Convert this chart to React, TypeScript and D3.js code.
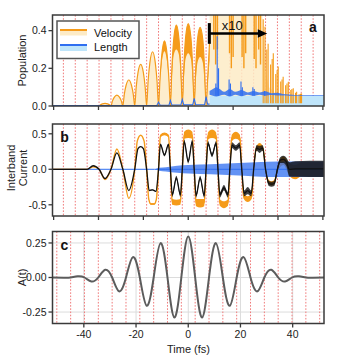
import React from "react";
import * as d3 from "d3";

// ---------- values ----------
const topTicks = [-60, -40, -20, 0, 20, 40, 60];
const timeTicks = [-40, -20, 0, 20, 40];
const popTicks = [0, 0.2, 0.4];
const curTicks = [-0.5, 0, 0.5];
const aTicks = [-0.25, 0, 0.25];

// red dotted guides (field maxima, half period 5.3 fs)
const redLines = [-55.65, -50.35, -45.05, -39.75, -34.45, -29.15, -23.85, -18.55, -13.25, -7.95, -2.65,
  2.65, 7.95, 13.25, 18.55, 23.85, 29.15, 34.45, 39.75, 45.05, 50.35, 55.65];

// panel a : velocity humps [t, upper, lower edge of dense band]
const velHumps = [
  [-60.5, 0, 0], [-39.75, 0, 0],
  [-39.1, 0.006, 0.006], [-38.3, 0.011, 0.011], [-37.1, 0.014, 0.014], [-35.9, 0.011, 0.011], [-35.1, 0.006, 0.006],
  [-34.45, 0, 0],
  [-33.8, 0.026, 0.026], [-33.0, 0.046, 0.046], [-31.8, 0.058, 0.058], [-30.6, 0.046, 0.046], [-29.8, 0.026, 0.026],
  [-29.15, 0, 0],
  [-28.5, 0.062, 0.062], [-27.7, 0.11, 0.11], [-26.5, 0.138, 0.138], [-25.3, 0.11, 0.11], [-24.5, 0.062, 0.062],
  [-23.85, 0, 0],
  [-23.2, 0.1, 0.1], [-22.4, 0.177, 0.177], [-21.2, 0.221, 0.221], [-20.0, 0.177, 0.177], [-19.2, 0.1, 0.1],
  [-18.55, 0, 0],
  [-17.9, 0.13, 0.13], [-17.1, 0.23, 0.23], [-15.9, 0.288, 0.288], [-14.7, 0.23, 0.23], [-13.9, 0.13, 0.13],
  [-13.25, 0, 0],
  [-12.6, 0.14, 0.13], [-11.8, 0.27, 0.23], [-10.6, 0.346, 0.29], [-9.4, 0.27, 0.23], [-8.6, 0.14, 0.13],
  [-7.95, 0, 0],
  [-7.3, 0.2, 0.14], [-6.5, 0.35, 0.27], [-5.3, 0.43, 0.3], [-4.1, 0.35, 0.27], [-3.3, 0.2, 0.14],
  [-2.65, 0, 0],
  [-2.0, 0.2, 0.13], [-1.2, 0.36, 0.25], [0, 0.437, 0.28], [1.2, 0.36, 0.25], [2.0, 0.2, 0.13],
  [2.65, 0, 0],
  [3.3, 0.19, 0.12], [4.1, 0.35, 0.23], [5.3, 0.417, 0.26], [6.5, 0.35, 0.23], [7.3, 0.19, 0.12],
  [7.95, 0, 0], [8.7, 0.16, 0.12], [9.5, 0.34, 0.24],
];
// x10 part: envelope of the light fill
const x10Env = [[9.5, 0.6], [32.8, 0.6], [33.4, 0.35], [34.5, 0.18], [36, 0.1], [40, 0.06], [45, 0.045], [52, 0.035], [60.5, 0.03]];
// orange dips coming down from above the frame
const dipT = [11.4, 12.2, 13.0, 18.4, 19.2, 20.0, 24.0, 24.8, 25.6, 29.4, 30.2, 31.4, 32.2];
const dipV = [0.3, 0.22, 0.3, 0.28, 0.2, 0.26, 0.26, 0.2, 0.28, 0.25, 0.2, 0.3, 0.22];
// decaying orange spikes after the pulse
const spikeT = [33.4, 34.2, 35.0, 35.6, 36.7, 37.4, 37.9, 39.0, 39.6, 40.1, 41.2, 41.8, 42.3, 43.4, 44.0, 44.6, 45.7, 46.2, 46.8, 47.8, 48.3, 49.4, 50.0, 50.5];
const spikeV = [0.46, 0.42, 0.3, 0.33, 0.22, 0.25, 0.28, 0.17, 0.19, 0.21, 0.13, 0.14, 0.155, 0.11, 0.12, 0.129, 0.085, 0.09, 0.094, 0.07, 0.076, 0.062, 0.065, 0.067];

// panel a : length population
const lenLow = [
  [-60.5, 0.003], [-14, 0.003], [-13.25, 0.02], [-12.5, 0.004], [-8.6, 0.004], [-7.95, 0.03], [-7.3, 0.005],
  [-3.3, 0.005], [-2.65, 0.035], [-2.0, 0.006], [2.0, 0.006], [2.65, 0.04], [3.3, 0.007], [7.3, 0.008],
  [7.95, 0.05], [8.6, 0.01], [9.5, 0.01],
];
// x10 part [t, lo, hi]
const lenHigh = [
  [9.5, 0.06, 0.08], [11, 0.055, 0.09], [12.5, 0.05, 0.1], [14, 0.055, 0.09], [16, 0.06, 0.075], [18.5, 0.05, 0.09],
  [21, 0.06, 0.075], [23.8, 0.052, 0.085], [26.5, 0.06, 0.072], [29.1, 0.054, 0.08], [31.8, 0.06, 0.072],
  [34.4, 0.055, 0.078], [37, 0.058, 0.068], [39.7, 0.056, 0.07], [42, 0.056, 0.064], [45, 0.055, 0.061],
  [50, 0.055, 0.058], [60.5, 0.055, 0.058],
];
const lenSpikeT = [12.3, 12.9, 13.5, 18.2, 18.8, 23.5, 24.1, 28.8, 29.4, 34.0];
const lenSpikeV = [0.12, 0.37, 0.2, 0.14, 0.12, 0.13, 0.1, 0.1, 0.09, 0.08];
const lenFill = [[9.5, 0.055], [60.5, 0.055]];

// panel b : interband current [t, value, ripple half width]
const curVel = [
  [-60.5, 0, 0], [-50, 0, 0], [-45.05, 0, 0], [-42.4, 0.035, 0], [-39.75, 0, 0], [-37.1, -0.145, 0],
  [-34.45, 0, 0], [-31.8, 0.285, 0], [-29.15, 0, 0], [-26.5, -0.41, 0], [-23.85, 0, 0],
  [-22.7, 0.4, 0], [-21.2, 0.48, 0], [-19.7, 0.4, 0], [-18.55, 0, 0],
  [-17.6, -0.42, 0.01], [-16.6, -0.49, 0.01], [-15.2, -0.49, 0.01], [-14.2, -0.42, 0.01], [-13.25, 0, 0.02],
  [-12.4, 0.47, 0.02], [-10.6, 0.5, 0.02], [-8.8, 0.47, 0.02], [-7.95, 0, 0.03],
  [-7.1, -0.46, 0.04], [-5.3, -0.47, 0.04], [-3.5, -0.46, 0.04], [-2.65, 0, 0.05],
  [-1.8, 0.48, 0.05], [0, 0.5, 0.06], [1.8, 0.48, 0.05], [2.65, 0, 0.05],
  [3.5, -0.47, 0.05], [5.3, -0.48, 0.06], [7.1, -0.47, 0.05], [7.95, 0, 0.05],
  [8.8, 0.47, 0.05], [10.6, 0.5, 0.06], [12.4, 0.47, 0.05], [13.25, 0, 0.045],
  [14.1, -0.47, 0.045], [15.9, -0.5, 0.05], [17.7, -0.47, 0.045], [18.55, 0, 0.045],
  [19.4, 0.44, 0.045], [21.2, 0.48, 0.05], [23.0, 0.44, 0.045], [23.85, 0, 0.035],
  [24.7, -0.38, 0.035], [26.5, -0.42, 0.04], [28.3, -0.38, 0.035], [29.15, 0, 0.03],
  [30.2, 0.28, 0.03], [31.8, 0.33, 0.04], [33.4, 0.28, 0.03], [34.45, 0, 0.03],
  [35.7, -0.17, 0.03], [37.1, -0.2, 0.03], [38.5, -0.17, 0.03], [39.75, 0, 0.04],
  [42.4, 0.12, 0.06], [45.05, 0, 0.09], [47.7, -0.04, 0.1], [50.35, 0, 0.1], [60.5, 0, 0.1],
];
const curTot = [
  [-60.5, 0, 0], [-48, 0, 0], [-45.05, 0, 0], [-42.4, 0.05, 0], [-39.75, 0, 0], [-37.1, -0.13, 0],
  [-34.45, 0, 0], [-31.8, 0.23, 0], [-29.15, 0, 0], [-26.5, -0.3, 0], [-23.85, 0, 0],
  [-22.4, 0.29, 0], [-21.2, 0.32, 0], [-20, 0.29, 0], [-18.55, 0, 0],
  [-17.4, -0.3, 0.005], [-15.9, -0.29, 0.005], [-14.4, -0.31, 0.005], [-13.25, 0, 0.015],
  [-12.4, 0.35, 0.015], [-10.6, 0.2, 0.02], [-8.8, 0.35, 0.015], [-7.95, 0, 0.03],
  [-7.1, -0.36, 0.03], [-5.3, -0.12, 0.03], [-3.5, -0.36, 0.03], [-2.65, 0, 0.03],
  [-1.8, 0.39, 0.03], [0, 0.11, 0.03], [1.8, 0.39, 0.03], [2.65, 0, 0.03],
  [3.5, -0.37, 0.03], [5.3, -0.12, 0.03], [7.1, -0.37, 0.03], [7.95, 0, 0.03],
  [8.8, 0.37, 0.03], [10.6, 0.2, 0.03], [12.4, 0.37, 0.03], [13.25, 0, 0.04],
  [14.1, -0.36, 0.04], [15.9, -0.26, 0.04], [17.7, -0.36, 0.04], [18.55, 0, 0.04],
  [19.5, 0.34, 0.04], [21.2, 0.3, 0.04], [22.9, 0.34, 0.04], [23.85, 0, 0.04],
  [24.9, -0.34, 0.04], [26.5, -0.3, 0.05], [28.1, -0.34, 0.04], [29.15, 0, 0.04],
  [30.4, 0.3, 0.04], [31.8, 0.28, 0.05], [33.2, 0.3, 0.04], [34.45, 0, 0.035],
  [35.9, -0.2, 0.035], [37.1, -0.21, 0.035], [38.3, -0.2, 0.035], [39.75, 0, 0.04],
  [41, 0.13, 0.04], [42.4, 0.14, 0.05], [43.8, 0.1, 0.06], [45.05, 0, 0.1],
  [47.7, 0.005, 0.11], [60.5, 0.005, 0.115],
];
const curLen = [
  [-60.5, 0, 0], [-15, 0, 0], [-13, 0, 0.02], [-10, 0, 0.03], [-5, 0, 0.05], [0, 0, 0.06],
  [10, 0, 0.07], [20, 0, 0.085], [30, 0, 0.1], [40, 0, 0.11], [60.5, 0, 0.11],
];

// panel c : vector potential extrema / zeros
const aT = [-52, -47.7, -45.05, -42.4, -39.75, -37.1, -34.45, -31.8, -29.15, -26.5, -23.85, -21.2, -18.55, -15.9,
  -13.25, -10.6, -7.95, -5.3, -2.65, 0, 2.65, 5.3, 7.95, 10.6, 13.25, 15.9, 18.55, 21.2, 23.85, 26.5, 29.15,
  31.8, 34.45, 37.1, 39.75, 42.4, 45.05, 47.7, 52];
const aV = [0, -0.002, 0, 0.009, 0, -0.029, 0, 0.056, 0, -0.1, 0, 0.148, 0, -0.205, 0, 0.249, 0, -0.29, 0,
  0.297, 0, -0.29, 0, 0.249, 0, -0.205, 0, 0.148, 0, -0.1, 0, 0.056, 0, -0.029, 0, 0.009, 0, -0.002, 0];

// ---------- styling ----------
const FONT = "'Liberation Sans', Arial, Helvetica, sans-serif";
const ORANGE = "#f59b1a";
const ORANGE_LT = "#fdebc6";
const BLUE = "#2f6ef0";
const BLUE_LT = "#bfe5fa";
const RED = "#f07a7a";
const FRAME = "#3a3a3a";
const L = 52.5, R = 324;

export default function App() {
  const xT = d3.scaleLinear().domain([-60.5, 60.5]).range([L, R]);
  const xB = d3.scaleLinear().domain([-52, 52]).range([L, R]);
  const yA = d3.scaleLinear().domain([0, 0.483]).range([106, 15]);
  const yB = d3.scaleLinear().domain([-0.658, 0.638]).range([216, 124]);
  const yC = d3.scaleLinear().domain([-0.333, 0.333]).range([323.5, 231.5]);

  const mono = d3.curveMonotoneX;

  // panel a generators
  const humpFill = d3.area<number[]>().x(d => xT(d[0])).y0(yA(0)).y1(d => yA(d[1])).curve(mono);
  const humpBand = d3.area<number[]>().x(d => xT(d[0])).y0(d => yA(d[2])).y1(d => yA(d[1])).curve(mono);
  const humpHi = d3.line<number[]>().x(d => xT(d[0])).y(d => yA(d[1])).curve(mono);
  const envFill = d3.area<number[]>().x(d => xT(d[0])).y0(yA(0)).y1(d => yA(d[1]));
  const lenLine = d3.line<number[]>().x(d => xT(d[0])).y(d => yA(d[1]));
  const lenBand = d3.area<number[]>().x(d => xT(d[0])).y0(d => yA(d[1])).y1(d => yA(d[2])).curve(mono);

  // panel b generators
  const bandB = d3.area<number[]>().x(d => xT(d[0])).y0(d => yB(d[1] - d[2])).y1(d => yB(d[1] + d[2])).curve(mono);
  const lineB = d3.line<number[]>().x(d => xT(d[0])).y(d => yB(d[1])).curve(mono);

  // panel c
  const aLine = d3.line<number>().x((_, i) => xB(aT[i])).y(d => yC(d)).curve(d3.curveNatural);

  const panels = [
    { id: "a", top: 15, bottom: 106 },
    { id: "b", top: 124, bottom: 216 },
    { id: "c", top: 231.5, bottom: 323.5 },
  ];

  const redGuides = (x: d3.ScaleLinear<number, number>, top: number, bottom: number) =>
    redLines.filter(t => t > x.domain()[0] && t < x.domain()[1]).map(t => (
      <line key={t} x1={x(t)} x2={x(t)} y1={top} y2={bottom} stroke={RED} strokeWidth={1} strokeDasharray="1.6,1.6" />
    ));

  const yAxis = (y: d3.ScaleLinear<number, number>, ticks: number[], digits: number) =>
    ticks.map(v => (
      <g key={v}>
        <line x1={L - 4} x2={L} y1={y(v)} y2={y(v)} stroke={FRAME} strokeWidth={1.3} />
        <text x={L - 6} y={y(v) + 3.8} textAnchor="end" fontSize={10.5} fill="#222">{v.toFixed(digits)}</text>
      </g>
    ));

  const xTickMarks = (x: d3.ScaleLinear<number, number>, ticks: number[], bottom: number) =>
    ticks.map(v => (
      <line key={v} x1={x(v)} x2={x(v)} y1={bottom} y2={bottom + 4} stroke={FRAME} strokeWidth={1.3} />
    ));

  return (
    <svg width={347} height={361} style={{ position: "absolute", left: 0, top: 0, background: "#fff" }} fontFamily={FONT}>
      <defs>
        {panels.map(p => (
          <clipPath key={p.id} id={"clip-" + p.id}>
            <rect x={L} y={p.top} width={R - L} height={p.bottom - p.top} />
          </clipPath>
        ))}
      </defs>

      {/* ---------------- panel a ---------------- */}
      <g clipPath="url(#clip-a)">
        {redGuides(xT, 15, 106)}
        <path d={humpFill(velHumps) || ""} fill={ORANGE_LT} opacity={0.9} />
        <path d={envFill(x10Env) || ""} fill={ORANGE_LT} opacity={0.85} />
        <path d={envFill(lenFill) || ""} fill={BLUE_LT} />
        <path d={humpBand(velHumps) || ""} fill={ORANGE} />
        <path d={humpHi(velHumps) || ""} fill="none" stroke={ORANGE} strokeWidth={1.2} />
        {dipT.map((t, i) => (
          <line key={"d" + t} x1={xT(t)} x2={xT(t)} y1={yA(0.5)} y2={yA(dipV[i])} stroke={ORANGE} strokeWidth={1.4} />
        ))}
        {spikeT.map((t, i) => (
          <line key={"s" + t} x1={xT(t)} x2={xT(t)} y1={yA(0.015)} y2={yA(spikeV[i])} stroke={ORANGE} strokeWidth={1.1} />
        ))}
        <path d={lenLine(lenLow) || ""} fill="none" stroke={BLUE} strokeWidth={1.1} />
        <path d={lenBand(lenHigh) || ""} fill={BLUE} opacity={0.85} />
        {lenSpikeT.map((t, i) => (
          <line key={"b" + t} x1={xT(t)} x2={xT(t)} y1={yA(0.055)} y2={yA(lenSpikeV[i])} stroke={BLUE} strokeWidth={1.1} />
        ))}
      </g>
      {/* x10 marker */}
      <line x1={xT(9.4)} x2={xT(9.4)} y1={yA(0.44)} y2={yA(0.33)} stroke="#000" strokeWidth={3} />
      <line x1={xT(9.4)} x2={xT(31.2)} y1={yA(0.385)} y2={yA(0.385)} stroke="#000" strokeWidth={2.6} />
      <path d={`M${xT(31)},${yA(0.385) - 4.3}L${xT(35.2)},${yA(0.385)}L${xT(31)},${yA(0.385) + 4.3}Z`} fill="#000" />
      <text x={xT(19.6)} y={yA(0.405)} textAnchor="middle" fontSize={13} fill="#111">x10</text>
      <text x={313} y={31.5} textAnchor="middle" fontSize={14} fontWeight="bold" fill="#111">a</text>
      {/* legend */}
      <rect x={57} y={21} width={82} height={37.5} fill="#fff" stroke="#555" strokeWidth={1.5} />
      <rect x={60} y={30} width={27} height={5.5} fill={ORANGE_LT} />
      <line x1={60} x2={87} y1={30} y2={30} stroke={ORANGE} strokeWidth={2} />
      <text x={94} y={36.5} fontSize={11} fill="#111">Velocity</text>
      <rect x={60} y={45} width={27} height={6} fill={BLUE_LT} />
      <line x1={60} x2={87} y1={45} y2={45} stroke={BLUE} strokeWidth={2} />
      <text x={94} y={50.5} fontSize={11} fill="#111">Length</text>
      <rect x={L} y={15} width={R - L} height={91} fill="none" stroke={FRAME} strokeWidth={1.5} />
      {yAxis(yA, popTicks, 1)}
      {xTickMarks(xT, topTicks, 106)}
      <text transform="translate(26,60.5) rotate(-90)" textAnchor="middle" fontSize={11} fill="#222">Population</text>

      {/* ---------------- panel b ---------------- */}
      <g clipPath="url(#clip-b)">
        {redGuides(xT, 124, 216)}
        <path d={bandB(curVel) || ""} fill={ORANGE} />
        <path d={lineB(curVel) || ""} fill="none" stroke={ORANGE} strokeWidth={1.4} />
        <path d={bandB(curLen) || ""} fill={BLUE} opacity={0.75} />
        <path d={lineB(curLen) || ""} fill="none" stroke={BLUE} strokeWidth={1} />
        <path d={bandB(curTot) || ""} fill="#111" opacity={0.8} />
        <path d={lineB(curTot) || ""} fill="none" stroke="#111" strokeWidth={1.3} />
      </g>
      <text x={64.5} y={142} textAnchor="middle" fontSize={14} fontWeight="bold" fill="#111">b</text>
      <rect x={L} y={124} width={R - L} height={92} fill="none" stroke={FRAME} strokeWidth={1.5} />
      {yAxis(yB, curTicks, 1)}
      {xTickMarks(xT, topTicks, 216)}
      <text transform="translate(15,168) rotate(-90)" textAnchor="middle" fontSize={11} fill="#222">Interband</text>
      <text transform="translate(27,168) rotate(-90)" textAnchor="middle" fontSize={11} fill="#222">Current</text>

      {/* ---------------- panel c ---------------- */}
      <g clipPath="url(#clip-c)">
        {timeTicks.map(t => (
          <line key={"gx" + t} x1={xB(t)} x2={xB(t)} y1={231.5} y2={323.5} stroke="#dcdcdc" strokeWidth={1} />
        ))}
        {aTicks.map(v => (
          <line key={"gy" + v} x1={L} x2={R} y1={yC(v)} y2={yC(v)} stroke="#dcdcdc" strokeWidth={1} />
        ))}
        {redGuides(xB, 231.5, 323.5)}
        <path d={aLine(aV) || ""} fill="none" stroke="#5c5c5c" strokeWidth={2} />
      </g>
      <text x={64.5} y={249.5} textAnchor="middle" fontSize={14} fontWeight="bold" fill="#111">c</text>
      <rect x={L} y={231.5} width={R - L} height={92} fill="none" stroke={FRAME} strokeWidth={1.5} />
      {yAxis(yC, aTicks, 2)}
      {xTickMarks(xB, timeTicks, 323.5)}
      {timeTicks.map(t => (
        <text key={"tl" + t} x={xB(t)} y={338} textAnchor="middle" fontSize={10.5} fill="#222">{String(t)}</text>
      ))}
      <text transform="translate(26,277.5) rotate(-90)" textAnchor="middle" fontSize={11} fill="#222">A(t)</text>
      <text x={188.5} y={353} textAnchor="middle" fontSize={11} fill="#222">Time (fs)</text>
    </svg>
  );
}
